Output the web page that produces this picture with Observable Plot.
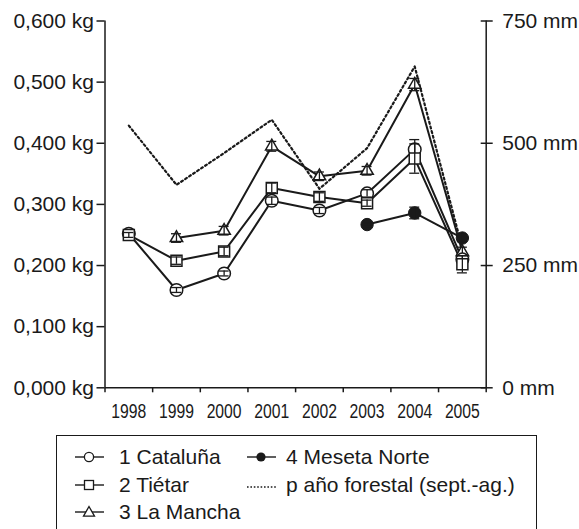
<!DOCTYPE html>
<html>
<head>
<meta charset="utf-8">
<script src="https://cdn.jsdelivr.net/npm/d3@7"></script>
<script src="https://cdn.jsdelivr.net/npm/@observablehq/plot@0.6"></script>
<style>
  body { margin: 0; background: #fff; }
  #wrap { position: relative; width: 579px; height: 529px; overflow: hidden;
          font-family: "Liberation Sans", Arial, Helvetica, sans-serif; color: #1a1a1a; }
  #wrap > svg { position: absolute; left: 0; top: 0; }
  #legend { position: absolute; left: 56px; top: 435px; width: 481px; height: 130px;
            border: 1.5px solid #1a1a1a; box-sizing: border-box; font-size: 21px; }
  .item { position: absolute; display: flex; align-items: center; height: 26px; white-space: nowrap; }
  .item svg { display: block; }
</style>
</head>
<body>
<div id="wrap"></div>
<script>
// ---- data ----
const years = [1998, 1999, 2000, 2001, 2002, 2003, 2004, 2005];
const cataluna    = [0.252, 0.160, 0.187, 0.306, 0.290, 0.318, 0.390, 0.210];
const catalunaErr = [0.004, 0.004, 0.004, 0.006, 0.005, 0.006, 0.016, 0.006];
const tietar      = [0.250, 0.208, 0.223, 0.327, 0.312, 0.302, 0.375, 0.202];
const tietarErr   = [0.004, 0.006, 0.007, 0.008, 0.007, 0.005, 0.024, 0.014];
const mancha      = [null, 0.245, 0.257, 0.395, 0.346, 0.355, 0.496, 0.222];
const manchaErr   = [null, 0.007, 0.007, 0.008, 0.007, 0.007, 0.010, 0.008];
const meseta      = [null, null, null, null, null, 0.267, 0.286, 0.245];
const mesetaErr   = [null, null, null, null, null, 0.003, 0.0095, 0.006];
const precipMm    = [536, 415, 480, 548, 407, 490, 657, 285];
const kgTicks = [0, 0.1, 0.2, 0.3, 0.4, 0.5, 0.6];
const mmTicks = [0, 250, 500, 750];
const legendLabels = ["1 Cataluña", "2 Tiétar", "3 La Mancha", "4 Meseta Norte", "p año forestal (sept.-ag.)"];

// ---- derived tables ----
const kgPerMm = 0.6 / 750;
const xDomain = [years[0] - 0.5, years[years.length - 1] + 0.5];
const yearEdges = [...years.map(y => y - 0.5), years[years.length - 1] + 0.5];
function rows(vals, errs) {
  return years.map((year, i) => ({year, value: vals[i], err: errs[i]})).filter(d => d.value != null);
}
const rCat = rows(cataluna, catalunaErr);
const rTie = rows(tietar, tietarErr);
const rMan = rows(mancha, manchaErr);
const rMes = rows(meseta, mesetaErr);
const rPrec = years.map((year, i) => ({year, mm: precipMm[i]}));

const ink = "#1a1a1a";
const fmtKg = d => d.toFixed(3).replace(".", ",") + " kg";

function errMarks(data) {
  const e = data.filter(d => d.err);
  return [
    Plot.ruleX(e, {x: "year", y1: d => d.value - d.err, y2: d => d.value + d.err, stroke: ink, strokeWidth: 1.3}),
    Plot.ruleY(e, {x1: "year", x2: "year", y: d => d.value + d.err, insetLeft: -5, insetRight: -5, stroke: ink, strokeWidth: 1.3}),
    Plot.ruleY(e, {x1: "year", x2: "year", y: d => d.value - d.err, insetLeft: -5, insetRight: -5, stroke: ink, strokeWidth: 1.3})
  ];
}
function lineMark(data) {
  return Plot.line(data, {x: "year", y: "value", stroke: ink, strokeWidth: 2});
}

const chart = Plot.plot({
  width: 579,
  height: 430,
  marginLeft: 104.5,
  marginRight: 93.3,
  marginTop: 20.5,
  marginBottom: 42.7,
  style: {fontFamily: "'Liberation Sans', Arial, Helvetica, sans-serif", fontSize: "21px", color: ink, background: "transparent"},
  x: {domain: xDomain},
  y: {domain: [0, 0.6]},
  marks: [
    // axes
    Plot.ruleX([xDomain[0], xDomain[1]], {y1: 0, y2: 0.6, stroke: ink, strokeWidth: 1.5}),
    Plot.ruleY([0], {x1: xDomain[0], x2: xDomain[1], stroke: ink, strokeWidth: 1.5}),
    Plot.axisY({anchor: "left", ticks: kgTicks, tickSize: 8, tickPadding: 3, tickFormat: fmtKg, label: null, strokeWidth: 1.5}),
    Plot.axisY({anchor: "right", ticks: mmTicks.map(m => m * kgPerMm), tickSize: 12, dx: -6, tickFormat: () => "", label: null, strokeWidth: 1.5}),
    Plot.axisY({anchor: "right", ticks: mmTicks.map(m => m * kgPerMm), tickSize: 0, tickPadding: 16, tickFormat: d => Math.round(d / kgPerMm) + " mm", label: null}),
    Plot.axisX({ticks: yearEdges, tickSize: 5, tickFormat: () => "", label: null, strokeWidth: 1.5}),
    Plot.axisX({ticks: years, tickSize: 0, tickPadding: 16.5, tickFormat: d => String(d), label: null,
                fontFamily: "'Liberation Sans Narrow', 'Arial Narrow', 'Liberation Sans', sans-serif", fontSize: 19.5}),
    // precipitation
    Plot.line(rPrec, {x: "year", y: d => d.mm * kgPerMm, stroke: ink, strokeWidth: 2.2, strokeDasharray: "2 2.8"}),
    // series lines
    lineMark(rMes), lineMark(rMan), lineMark(rTie), lineMark(rCat),
    // markers + error bars
    Plot.dot(rMes, {x: "year", y: "value", symbol: "circle", r: 6.2, fill: ink, stroke: ink, strokeWidth: 1}),
    ...errMarks(rMes),
    Plot.dot(rMan, {x: "year", y: "value", symbol: "triangle", r: 4.6, fill: "white", stroke: ink, strokeWidth: 1.5}),
    ...errMarks(rMan),
    Plot.dot(rCat, {x: "year", y: "value", symbol: "circle", r: 6.3, fill: "white", stroke: ink, strokeWidth: 1.5}),
    ...errMarks(rCat),
    Plot.dot(rTie, {x: "year", y: "value", symbol: "square", r: 6.2, fill: "white", stroke: ink, strokeWidth: 1.5}),
    ...errMarks(rTie)
  ]
});

// condense the year labels (the reference uses a condensed face)
const yearSet = new Set(years.map(String));
d3.select(chart).selectAll("text").each(function () {
  if (yearSet.has(this.textContent.trim())) {
    this.style.fontSize = "19.5px";
    this.setAttribute("textLength", 35);
    this.setAttribute("lengthAdjust", "spacingAndGlyphs");
  }
});

const wrap = document.getElementById("wrap");
wrap.appendChild(chart);

// ---- legend ----
const legend = document.createElement("div");
legend.id = "legend";
wrap.appendChild(legend);
const kinds = ["circle", "square", "triangle", "filled", "dotted"];
const slots = [
  {left: 17, top: 8, gap: 13}, {left: 17, top: 35.7, gap: 13}, {left: 17, top: 63.4, gap: 13},
  {left: 189, top: 8, gap: 8}, {left: 189, top: 35.7, gap: 8}
];
function symbolSvg(kind) {
  const w = 32, h = 20, cx = 15, cy = 10;
  const s = d3.create("svg").attr("width", w).attr("height", h);
  if (kind === "dotted") {
    s.append("line").attr("x1", 1).attr("x2", 31).attr("y1", cy + 2).attr("y2", cy + 2)
      .attr("stroke", ink).attr("stroke-width", 1.3).attr("stroke-dasharray", "1.6 1.8");
    return s.node();
  }
  s.append("line").attr("x1", 1).attr("x2", 30).attr("y1", cy).attr("y2", cy).attr("stroke", ink).attr("stroke-width", 1.4);
  if (kind === "circle") s.append("circle").attr("cx", cx).attr("cy", cy).attr("r", 4.6).attr("fill", "white").attr("stroke", ink).attr("stroke-width", 1.3);
  if (kind === "filled") s.append("circle").attr("cx", cx).attr("cy", cy).attr("r", 4.6).attr("fill", ink);
  if (kind === "square") s.append("rect").attr("x", cx - 4.5).attr("y", cy - 4.5).attr("width", 9).attr("height", 9).attr("fill", "white").attr("stroke", ink).attr("stroke-width", 1.3);
  if (kind === "triangle") s.append("path").attr("d", `M${cx},${cy - 5.5}L${cx + 5.5},${cy + 4.2}L${cx - 5.5},${cy + 4.2}Z`).attr("fill", "white").attr("stroke", ink).attr("stroke-width", 1.3);
  return s.node();
}
legendLabels.forEach((label, i) => {
  const it = document.createElement("div");
  it.className = "item";
  it.style.left = slots[i].left + "px";
  it.style.top = slots[i].top + "px";
  it.appendChild(symbolSvg(kinds[i]));
  const t = document.createElement("span");
  t.textContent = label;
  t.style.marginLeft = slots[i].gap + "px";
  it.appendChild(t);
  legend.appendChild(it);
});
</script>
</body>
</html>
